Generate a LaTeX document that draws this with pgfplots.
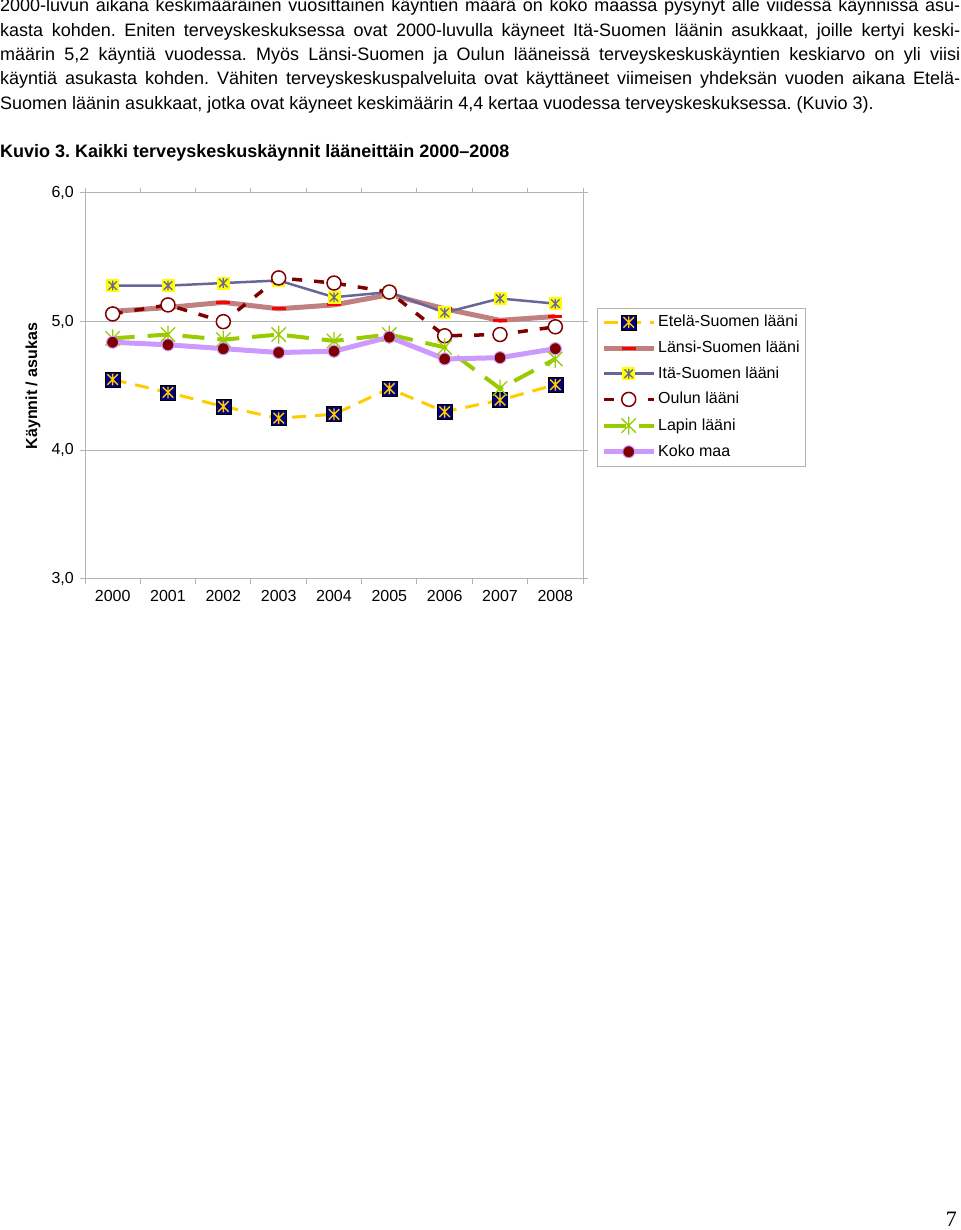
\documentclass[border=0pt]{standalone}
\usepackage{fontspec}
\setmainfont{Liberation Sans}
\newfontfamily\seriffont{Liberation Serif}
\usepackage{pgfplots}
\pgfplotsset{compat=1.18}

\definecolor{cNavy}{HTML}{000080}
\definecolor{cGold}{HTML}{FFCC00}
\definecolor{cRose}{HTML}{C08080}
\definecolor{cSlate}{HTML}{666699}
\definecolor{cYel}{HTML}{FFFF00}
\definecolor{cMaroon}{HTML}{800000}
\definecolor{cLime}{HTML}{99CC00}
\definecolor{cLav}{HTML}{CC99FF}
\definecolor{cGrid}{HTML}{B4B4B4}

\pgfdeclareplotmark{etela}{%
  \pgfsetdash{}{0pt}%
  \pgfpathrectangle{\pgfqpoint{-\pgfplotmarksize}{-\pgfplotmarksize}}{\pgfqpoint{2\pgfplotmarksize}{2\pgfplotmarksize}}%
  \pgfsetfillcolor{cNavy}\pgfsetstrokecolor{black}\pgfsetlinewidth{0.6pt}%
  \pgfusepath{fill,stroke}%
  \pgfsetstrokecolor{cGold}\pgfsetlinewidth{1.4pt}%
  \pgfpathmoveto{\pgfqpoint{0pt}{-0.78\pgfplotmarksize}}\pgfpathlineto{\pgfqpoint{0pt}{0.78\pgfplotmarksize}}%
  \pgfpathmoveto{\pgfqpoint{-0.7\pgfplotmarksize}{-0.7\pgfplotmarksize}}\pgfpathlineto{\pgfqpoint{0.7\pgfplotmarksize}{0.7\pgfplotmarksize}}%
  \pgfpathmoveto{\pgfqpoint{-0.7\pgfplotmarksize}{0.7\pgfplotmarksize}}\pgfpathlineto{\pgfqpoint{0.7\pgfplotmarksize}{-0.7\pgfplotmarksize}}%
  \pgfusepath{stroke}%
}
\pgfdeclareplotmark{ita}{%
  \pgfsetdash{}{0pt}%
  \pgfpathrectangle{\pgfqpoint{-\pgfplotmarksize}{-\pgfplotmarksize}}{\pgfqpoint{2\pgfplotmarksize}{2\pgfplotmarksize}}%
  \pgfsetfillcolor{cYel}%
  \pgfusepath{fill}%
  \pgfsetstrokecolor{cSlate}\pgfsetlinewidth{1.3pt}%
  \pgfpathmoveto{\pgfqpoint{0pt}{-0.75\pgfplotmarksize}}\pgfpathlineto{\pgfqpoint{0pt}{0.75\pgfplotmarksize}}%
  \pgfpathmoveto{\pgfqpoint{-0.65\pgfplotmarksize}{-0.65\pgfplotmarksize}}\pgfpathlineto{\pgfqpoint{0.65\pgfplotmarksize}{0.65\pgfplotmarksize}}%
  \pgfpathmoveto{\pgfqpoint{-0.65\pgfplotmarksize}{0.65\pgfplotmarksize}}\pgfpathlineto{\pgfqpoint{0.65\pgfplotmarksize}{-0.65\pgfplotmarksize}}%
  \pgfusepath{stroke}%
}
\pgfdeclareplotmark{lapin}{%
  \pgfsetdash{}{0pt}%
  \pgfsetstrokecolor{cLime}\pgfsetlinewidth{1.3pt}%
  \pgfpathmoveto{\pgfqpoint{0pt}{-\pgfplotmarksize}}\pgfpathlineto{\pgfqpoint{0pt}{\pgfplotmarksize}}%
  \pgfpathmoveto{\pgfqpoint{-0.8\pgfplotmarksize}{-0.8\pgfplotmarksize}}\pgfpathlineto{\pgfqpoint{0.8\pgfplotmarksize}{0.8\pgfplotmarksize}}%
  \pgfpathmoveto{\pgfqpoint{-0.8\pgfplotmarksize}{0.8\pgfplotmarksize}}\pgfpathlineto{\pgfqpoint{0.8\pgfplotmarksize}{-0.8\pgfplotmarksize}}%
  \pgfusepath{stroke}%
}

\pgfplotstableread{
year etela lansi ita oulu lappi koko
2000 4.55 5.08 5.28 5.06 4.87 4.84
2001 4.45 5.11 5.28 5.13 4.90 4.82
2002 4.34 5.15 5.30 5.00 4.86 4.79
2003 4.25 5.10 5.32 5.34 4.90 4.76
2004 4.28 5.13 5.19 5.30 4.85 4.77
2005 4.48 5.21 5.23 5.23 4.90 4.88
2006 4.30 5.10 5.07 4.89 4.80 4.71
2007 4.39 5.01 5.18 4.90 4.48 4.72
2008 4.51 5.04 5.14 4.96 4.71 4.79
}\datatable

\begin{document}
\frenchspacing
\begin{tikzpicture}
\path[use as bounding box] (0pt,0pt) rectangle (960pt,1230pt);
\fontsize{18}{24}\selectfont
% body text (page coordinates: y up = 1230 - y_down)
\node[anchor=base west, inner sep=0pt] at (0pt,1218pt) {\hbox to 960pt{2000-luvun aikana keskimääräinen vuosittainen käyntien määrä on koko maassa pysynyt alle viidessä käynnissä asu-}};
\node[anchor=base west, inner sep=0pt] at (0pt,1193.7pt) {\hbox to 960pt{kasta kohden. Eniten terveyskeskuksessa ovat 2000-luvulla käyneet Itä-Suomen läänin asukkaat, joille kertyi keski-}};
\node[anchor=base west, inner sep=0pt] at (0pt,1169.4pt) {\hbox to 960pt{määrin 5,2 käyntiä vuodessa. Myös Länsi-Suomen ja Oulun lääneissä terveyskeskuskäyntien keskiarvo on yli viisi}};
\node[anchor=base west, inner sep=0pt] at (0pt,1145.1pt) {\hbox to 960pt{käyntiä asukasta kohden. Vähiten terveyskeskuspalveluita ovat käyttäneet viimeisen yhdeksän vuoden aikana Etelä-}};
\node[anchor=base west, inner sep=0pt] at (0pt,1120.8pt) {Suomen läänin asukkaat, jotka ovat käyneet keskimäärin 4,4 kertaa vuodessa terveyskeskuksessa. (Kuvio 3).};
\node[anchor=base west, inner sep=0pt] at (0pt,1072pt) {\bfseries Kuvio 3. Kaikki terveyskeskuskäynnit lääneittäin 2000–2008};
% y label
\node[rotate=90, inner sep=0pt, font=\fontsize{16}{16}\selectfont\bfseries] at (33pt,844pt) {Käynnit / asukas};
% page number
\node[anchor=base east, inner sep=0pt, font=\fontsize{22}{22}\selectfont\seriffont] at (957pt,4pt) {7};

\begin{axis}[
  at={(85pt,651pt)}, anchor=south west,
  scale only axis, width=498pt, height=386pt,
  xmin=1999.5, xmax=2008.5, ymin=3, ymax=6,
  xtick={2000,2001,...,2008},
  minor xtick={1999.5,2000.5,...,2008.5},
  ytick={3,4,5,6},
  ymajorgrids,
  grid style={cGrid, line width=1pt},
  axis line style={cGrid, line width=1pt},
  tick align=outside,
  major tick length=5pt, minor tick length=5pt,
  major x tick style={draw=none},
  minor x tick style={cGrid, line width=1pt},
  major y tick style={cGrid, line width=1pt},
  tick label style={font=\fontsize{16}{16}\selectfont},
  /pgf/number format/assume math mode=true,
  yticklabel style={/pgf/number format/.cd, fixed, fixed zerofill, precision=1, use comma},
  xticklabel style={/pgf/number format/1000 sep={}},
  legend cell align=left,
  legend image code/.code={\draw[mark repeat=2,mark phase=2,#1] plot coordinates {(0pt,0pt) (25pt,0pt) (50pt,0pt)};},
  legend style={at={(1.0281,0.7021)}, anchor=north west, draw=cGrid,
    font=\fontsize{16}{16}\selectfont, row sep=7.4pt, inner xsep=4pt, inner ysep=5pt,
    nodes={inner xsep=2pt, inner ysep=2pt}},
]
\addplot[cGold, line width=3pt, dash pattern=on 14pt off 9pt, mark=etela, mark size=7.5pt, mark options={solid}] table[x=year,y=etela] {\datatable};
\addlegendentry{Etelä-Suomen lääni}
\addplot[cRose, line width=5pt, mark=-, mark size=7pt, mark options={solid, draw=red, line width=3pt}] table[x=year,y=lansi] {\datatable};
\addlegendentry{Länsi-Suomen lääni}
\addplot[cSlate, line width=2.5pt, mark=ita, mark size=6.5pt, mark options={solid}] table[x=year,y=ita] {\datatable};
\addlegendentry{Itä-Suomen lääni}
\addplot[cMaroon, line width=3.5pt, dash pattern=on 10pt off 12pt, mark=*, mark size=7pt, mark options={solid, fill=white, draw=cMaroon, line width=1.5pt}] table[x=year,y=oulu] {\datatable};
\addlegendentry{Oulun lääni}
\addplot[cLime, line width=4pt, dash pattern=on 22pt off 13pt, mark=lapin, mark size=9pt, mark options={solid}] table[x=year,y=lappi] {\datatable};
\addlegendentry{Lapin lääni}
\addplot[cLav, line width=5pt, mark=*, mark size=6pt, mark options={solid, fill=cMaroon, draw=cLav, line width=1pt}] table[x=year,y=koko] {\datatable};
\addlegendentry{Koko maa}
\end{axis}
\end{tikzpicture}
\end{document}
